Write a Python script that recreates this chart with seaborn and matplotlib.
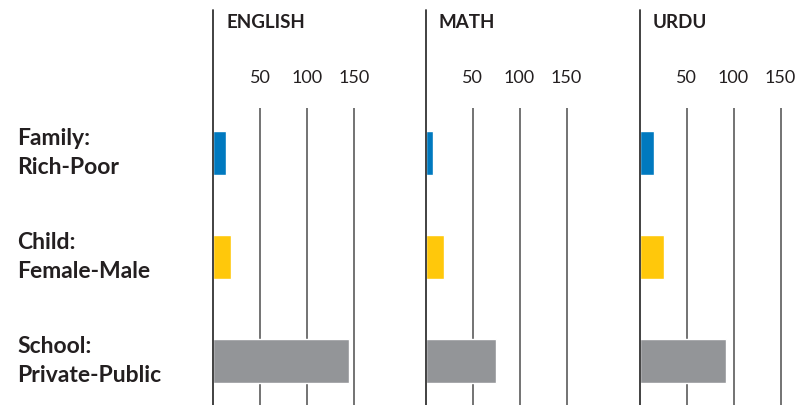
import pandas as pd
import matplotlib.pyplot as plt
import seaborn as sns
from matplotlib.transforms import blended_transform_factory

# values
subjects = ['ENGLISH', 'MATH', 'URDU']
groups = ['Family:\nRich-Poor', 'Child:\nFemale-Male', 'School:\nPrivate-Public']
english = [14, 19, 145]
math = [8, 20, 75]
urdu = [15, 26, 92]
ticks = [50, 100, 150]
colors = ['#0079BF', '#FFC80B', '#939598']

sns.set_style('white')
plt.rcParams['font.family'] = ['Lato', 'DejaVu Sans']

W, H = 799, 405
fig = plt.figure(figsize=(W / 100, H / 100), dpi=100)

lefts = [213, 425.5, 639.5]
top, bottom = 108, 405
width = 170 * 0.94

for subj, vals, left in zip(subjects, [english, math, urdu], lefts):
    ax = fig.add_axes([left / W, 0, width / W, (bottom - top) / H])
    df = pd.DataFrame({'group': groups, 'value': vals})
    sns.barplot(data=df, x='value', y='group', hue='group', palette=colors,
                width=0.43, orient='h', legend=False, ax=ax, saturation=1)
    ax.set_xlim(0, 170)
    ax.set_ylim(2.423, -0.433)
    for t in ticks:
        ax.axvline(t, color='#4d4d4d', lw=1.1, zorder=0)
    for s in ax.spines.values():
        s.set_visible(False)
    # axis line extends up past the tick labels
    ax.plot([0, 0], [0, 1 + 98 / (bottom - top)], transform=ax.get_xaxis_transform(),
            color='#333333', lw=1.3, clip_on=False, zorder=5)
    ax.xaxis.tick_top()
    ax.set_xticks(ticks)
    ax.set_xticklabels([str(t) for t in ticks], fontsize=13, color='#231f20')
    ax.tick_params(axis='x', length=0, pad=16)
    ax.set_yticks([])
    ax.set_xlabel('')
    ax.set_ylabel('')
    ax.text(13 / width, 1 + (top - 22) / (bottom - top), subj, transform=ax.transAxes,
            fontsize=13.5, fontweight='bold', color='#231f20', va='center', ha='left')
    if left == lefts[0]:
        tr = blended_transform_factory(fig.transFigure, ax.transData)
        for i, g in enumerate(groups):
            ax.text(17 / W, i, g, transform=tr, fontsize=16.5, fontweight='bold',
                    color='#231f20', va='center', ha='left', linespacing=1.5)

fig.savefig('out.png', dpi=100)
